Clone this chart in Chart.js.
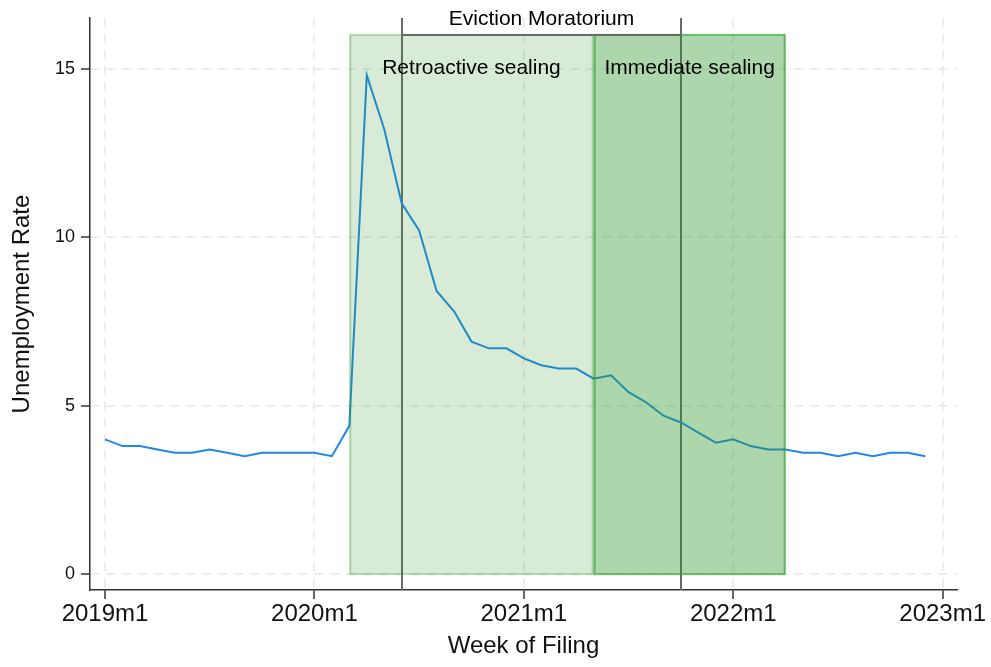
<!DOCTYPE html>
<html>
<head>
<meta charset="utf-8">
<title>Unemployment Rate</title>
<script src="https://cdn.jsdelivr.net/npm/chart.js@4.4.1/dist/chart.umd.min.js"></script>
<style>
  html, body { margin: 0; padding: 0; background: #ffffff; }
  canvas { display: block; }
</style>
</head>
<body>
<canvas id="chart" width="991" height="667"></canvas>
<script>
// Monthly series, 2019m1 .. 2022m12
const months = [
  '2019m1','2019m2','2019m3','2019m4','2019m5','2019m6','2019m7','2019m8','2019m9','2019m10','2019m11','2019m12',
  '2020m1','2020m2','2020m3','2020m4','2020m5','2020m6','2020m7','2020m8','2020m9','2020m10','2020m11','2020m12',
  '2021m1','2021m2','2021m3','2021m4','2021m5','2021m6','2021m7','2021m8','2021m9','2021m10','2021m11','2021m12',
  '2022m1','2022m2','2022m3','2022m4','2022m5','2022m6','2022m7','2022m8','2022m9','2022m10','2022m11','2022m12'
];
const unemploymentRate = [
  4.0, 3.8, 3.8, 3.7, 3.6, 3.6, 3.7, 3.6, 3.5, 3.6, 3.6, 3.6,
  3.6, 3.5, 4.4, 14.8, 13.2, 11.0, 10.2, 8.4, 7.8, 6.9, 6.7, 6.7,
  6.4, 6.2, 6.1, 6.1, 5.8, 5.9, 5.4, 5.1, 4.7, 4.5, 4.2, 3.9,
  4.0, 3.8, 3.7, 3.7, 3.6, 3.6, 3.5, 3.6, 3.5, 3.6, 3.6, 3.5
];

// Axis ticks
const xTickLabels = ['2019m1', '2020m1', '2021m1', '2022m1', '2023m1'];
const yTickValues = [0, 5, 10, 15];

// Policy periods (start, end)
const retroactiveSealing = ['2020m3', '2021m5'];
const immediateSealing = ['2021m5', '2022m4'];
const evictionMoratorium = ['2020m6', '2021m10'];
const periodNames = ['Retroactive sealing', 'Immediate sealing', 'Eviction Moratorium'];
const shadeSpan = [0, 16];      // vertical extent of the shaded periods
const bracketLevel = 16;        // height of the moratorium bracket
const periodLabelLevel = 15;    // height of the sealing labels

// "YYYYmM" -> months since 2019m1
function monthIndex(label) {
  const [y, m] = label.split('m').map(Number);
  return (y - 2019) * 12 + (m - 1);
}

const FONT = '"Liberation Sans", Arial, Helvetica, sans-serif';

const periodsPlugin = {
  id: 'periods',
  beforeDatasetsDraw(chart) {
    const { ctx, chartArea, scales: { x } } = chart;
    ctx.save();
    ctx.strokeStyle = '#6a6a6a';
    ctx.lineWidth = 2;
    evictionMoratorium.forEach(m => {
      const px = Math.round(x.getPixelForValue(monthIndex(m)));
      ctx.beginPath();
      ctx.moveTo(px, chartArea.top);
      ctx.lineTo(px, chartArea.bottom);
      ctx.stroke();
    });
    ctx.restore();
  },
  afterDatasetsDraw(chart) {
    const { ctx, scales: { x, y } } = chart;
    const boxes = [
      { span: retroactiveSealing, fill: 'rgba(44,150,40,0.19)', stroke: 'rgba(44,150,40,0.30)' },
      { span: immediateSealing, fill: 'rgba(44,150,40,0.39)', stroke: 'rgba(44,160,40,0.62)' }
    ];
    ctx.save();
    boxes.forEach(b => {
      const x0 = x.getPixelForValue(monthIndex(b.span[0]));
      const x1 = x.getPixelForValue(monthIndex(b.span[1]));
      const y0 = y.getPixelForValue(shadeSpan[1]);
      const y1 = y.getPixelForValue(shadeSpan[0]);
      ctx.fillStyle = b.fill;
      ctx.fillRect(x0, y0, x1 - x0, y1 - y0);
      ctx.strokeStyle = b.stroke;
      ctx.lineWidth = 2;
      ctx.strokeRect(x0 + 1, y0, x1 - x0 - 2, y1 - y0);
    });
    ctx.restore();
  },
  afterDraw(chart) {
    const { ctx, scales: { x, y } } = chart;
    ctx.save();
    // moratorium bracket
    const mx0 = Math.round(x.getPixelForValue(monthIndex(evictionMoratorium[0])));
    const mx1 = Math.round(x.getPixelForValue(monthIndex(evictionMoratorium[1])));
    const by = Math.round(y.getPixelForValue(bracketLevel));
    ctx.strokeStyle = '#6a6a6a';
    ctx.lineWidth = 2;
    ctx.beginPath();
    ctx.moveTo(mx0, by);
    ctx.lineTo(mx1, by);
    ctx.stroke();

    ctx.fillStyle = '#000000';
    ctx.font = '21px ' + FONT;
    ctx.textAlign = 'center';
    ctx.textBaseline = 'middle';
    ctx.fillText(periodNames[2], (mx0 + mx1) / 2, by - 16);

    const ly = y.getPixelForValue(periodLabelLevel);
    [retroactiveSealing, immediateSealing].forEach((span, i) => {
      const a = x.getPixelForValue(monthIndex(span[0]));
      const b = x.getPixelForValue(monthIndex(span[1]));
      ctx.fillText(periodNames[i], (a + b) / 2, ly);
    });
    ctx.restore();
  }
};

const gridStyle = {
  color: '#ececec',
  lineWidth: 2,
  tickColor: '#333333',
  tickWidth: 1.5,
  tickLength: 9,
  tickBorderDash: []
};

new Chart(document.getElementById('chart'), {
  type: 'line',
  data: {
    datasets: [{
      label: 'Unemployment Rate',
      data: unemploymentRate.map((v, i) => ({ x: monthIndex(months[i]), y: v })),
      borderColor: '#1f88ea',
      borderWidth: 2,
      pointRadius: 0,
      tension: 0,
      fill: false
    }]
  },
  options: {
    responsive: false,
    animation: false,
    devicePixelRatio: 1,
    layout: { padding: { left: 0, right: 34, top: 18, bottom: 0 } },
    plugins: {
      legend: { display: false },
      tooltip: { enabled: false }
    },
    scales: {
      x: {
        type: 'linear',
        min: -0.86,
        max: 48.82,
        afterBuildTicks: s => { s.ticks = xTickLabels.map(l => ({ value: monthIndex(l) })); },
        afterFit: s => { s.height = 77; },
        ticks: {
          autoSkip: false,
          maxRotation: 0,
          padding: 1,
          color: '#111111',
          font: { family: FONT, size: 24 },
          callback: v => xTickLabels.find(l => monthIndex(l) === v) || ''
        },
        grid: gridStyle,
        border: { color: '#333333', width: 1.5, dash: [9, 7] },
        title: {
          display: true,
          text: 'Week of Filing',
          color: '#111111',
          font: { family: FONT, size: 24 },
          padding: { top: 0, bottom: 6 }
        }
      },
      y: {
        type: 'linear',
        min: -0.47,
        max: 16.5,
        afterBuildTicks: s => { s.ticks = yTickValues.map(v => ({ value: v })); },
        afterFit: s => { s.width = 90; },
        ticks: {
          padding: 6,
          color: '#111111',
          font: { family: FONT, size: 18 }
        },
        grid: gridStyle,
        border: { color: '#333333', width: 1.5, dash: [9, 7] },
        title: {
          display: true,
          text: 'Unemployment Rate',
          color: '#111111',
          font: { family: FONT, size: 24 },
          padding: { top: 8, bottom: 0 }
        }
      }
    }
  },
  plugins: [periodsPlugin]
});
</script>
</body>
</html>
